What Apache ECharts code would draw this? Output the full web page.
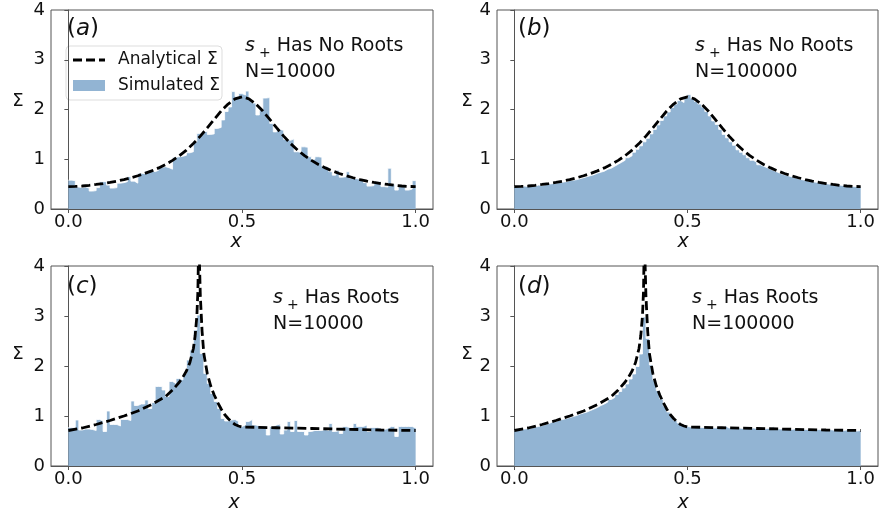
<!DOCTYPE html>
<html>
<head>
<meta charset="utf-8">
<script src="https://cdn.jsdelivr.net/npm/echarts@6/dist/echarts.min.js"></script>
<style>
html, body { margin: 0; padding: 0; background: #fff; }
#main { width: 879px; height: 516px; }
</style>
</head>
<body>
<div id="main"></div>
<script>
// histograms: 100 bins of width 0.01 on [0, 1]
var binCount = 100;

var histA = [
  0.58, 0.57, 0.44, 0.43, 0.44, 0.42, 0.36, 0.37, 0.43, 0.55,
  0.55, 0.48, 0.42, 0.43, 0.52, 0.53, 0.55, 0.65, 0.56, 0.52,
  0.72, 0.71, 0.76, 0.77, 0.75, 0.78, 0.84, 0.85, 0.83, 0.80,
  1.04, 1.05, 1.06, 1.08, 1.13, 1.15, 1.35, 1.52, 1.55, 1.56,
  1.50, 1.51, 1.62, 1.64, 1.79, 1.96, 2.05, 2.36, 2.26, 2.32,
  2.29, 2.37, 2.19, 2.13, 1.89, 1.99, 2.23, 2.24, 1.72, 1.55,
  1.60, 1.58, 1.40, 1.38, 1.41, 1.15, 1.14, 1.25, 1.24, 1.05,
  1.00, 1.05, 1.04, 0.86, 0.84, 0.75, 0.68, 0.78, 0.64, 0.65,
  0.75, 0.62, 0.61, 0.60, 0.58, 0.53, 0.46, 0.47, 0.55, 0.56,
  0.45, 0.44, 0.82, 0.50, 0.38, 0.45, 0.45, 0.38, 0.40, 0.57
];

var histB = [
  0.45, 0.44, 0.46, 0.45, 0.47, 0.46, 0.48, 0.47, 0.49, 0.50,
  0.51, 0.52, 0.53, 0.54, 0.55, 0.57, 0.58, 0.59, 0.61, 0.63,
  0.65, 0.67, 0.69, 0.72, 0.74, 0.76, 0.80, 0.82, 0.86, 0.90,
  0.94, 0.98, 1.03, 1.07, 1.14, 1.20, 1.27, 1.35, 1.42, 1.51,
  1.60, 1.69, 1.78, 1.87, 1.95, 2.04, 2.11, 2.18, 2.14, 2.24,
  2.30, 2.22, 2.16, 2.11, 2.05, 1.96, 1.87, 1.77, 1.70, 1.60,
  1.50, 1.43, 1.35, 1.28, 1.19, 1.14, 1.09, 1.03, 0.98, 0.94,
  0.89, 0.86, 0.83, 0.80, 0.77, 0.74, 0.71, 0.69, 0.67, 0.65,
  0.63, 0.61, 0.59, 0.58, 0.56, 0.55, 0.54, 0.53, 0.52, 0.51,
  0.50, 0.49, 0.48, 0.48, 0.47, 0.46, 0.46, 0.45, 0.45, 0.44
];

var histC = [
  0.77, 0.77, 0.92, 0.72, 0.74, 0.74, 0.73, 0.71, 0.93, 0.90,
  0.69, 1.10, 0.83, 0.83, 0.80, 0.93, 0.93, 0.91, 1.30, 1.21,
  1.24, 1.24, 1.32, 1.15, 1.27, 1.59, 1.59, 1.52, 1.39, 1.69,
  1.65, 1.75, 1.72, 1.85, 2.12, 2.32, 2.72, 3.02, 2.25, 1.85,
  1.65, 1.45, 1.29, 1.15, 0.95, 0.90, 0.92, 0.93, 0.89, 0.79,
  0.82, 0.89, 0.93, 0.82, 0.80, 0.80, 0.80, 0.62, 0.79, 0.82,
  0.84, 0.64, 0.72, 0.89, 0.69, 0.91, 0.69, 0.69, 0.62, 0.69,
  0.71, 0.71, 0.71, 0.73, 0.71, 0.85, 0.69, 0.71, 0.65, 0.79,
  0.77, 0.77, 0.85, 0.79, 0.79, 0.82, 0.69, 0.77, 0.77, 0.75,
  0.73, 0.75, 0.79, 0.79, 0.59, 0.79, 0.79, 0.79, 0.79, 0.76
];

var histD = [
  0.71, 0.72, 0.74, 0.75, 0.76, 0.78, 0.79, 0.81, 0.83, 0.85,
  0.88, 0.89, 0.92, 0.93, 0.95, 0.97, 0.99, 1.01, 1.04, 1.06,
  1.08, 1.11, 1.14, 1.17, 1.21, 1.24, 1.28, 1.33, 1.37, 1.43,
  1.49, 1.56, 1.64, 1.74, 1.84, 1.99, 2.24, 2.98, 2.55, 2.02,
  1.72, 1.51, 1.34, 1.20, 1.08, 0.99, 0.91, 0.86, 0.82, 0.79,
  0.78, 0.77, 0.78, 0.77, 0.77, 0.78, 0.77, 0.76, 0.77, 0.76,
  0.80, 0.76, 0.77, 0.76, 0.76, 0.75, 0.76, 0.75, 0.76, 0.75,
  0.75, 0.74, 0.75, 0.76, 0.79, 0.74, 0.74, 0.75, 0.74, 0.73,
  0.74, 0.73, 0.74, 0.73, 0.73, 0.74, 0.72, 0.73, 0.72, 0.72,
  0.73, 0.72, 0.71, 0.72, 0.71, 0.72, 0.71, 0.71, 0.70, 0.71
];

// analytical curves
var curveABx = [
  0.00, 0.02, 0.04, 0.06, 0.08, 0.10, 0.12, 0.14, 0.16, 0.18,
  0.20, 0.22, 0.24, 0.26, 0.28, 0.30, 0.32, 0.34, 0.36, 0.38,
  0.40, 0.42, 0.44, 0.46, 0.48, 0.50, 0.52, 0.54, 0.56, 0.58,
  0.60, 0.62, 0.64, 0.66, 0.68, 0.70, 0.72, 0.74, 0.76, 0.78,
  0.80, 0.82, 0.84, 0.86, 0.88, 0.90, 0.92, 0.94, 0.96, 0.98, 1.00
];
var curveABy = [
  0.450, 0.453, 0.462, 0.476, 0.493, 0.512, 0.535, 0.560, 0.592, 0.628,
  0.668, 0.714, 0.766, 0.826, 0.896, 0.978, 1.072, 1.185, 1.315, 1.465,
  1.630, 1.800, 1.970, 2.110, 2.215, 2.255, 2.215, 2.110, 1.970, 1.800,
  1.630, 1.465, 1.315, 1.185, 1.072, 0.978, 0.896, 0.826, 0.766, 0.714,
  0.668, 0.628, 0.592, 0.560, 0.535, 0.512, 0.493, 0.476, 0.462, 0.453, 0.450
];

var curveCDx = [
  0.00, 0.04, 0.08, 0.12, 0.16, 0.20, 0.24, 0.28, 0.30, 0.32,
  0.33, 0.34, 0.35, 0.36, 0.365, 0.37, 0.373, 0.3755, 0.3775, 0.38,
  0.385, 0.39, 0.40, 0.41, 0.42, 0.43, 0.44, 0.45, 0.46, 0.47,
  0.48, 0.49, 0.50, 0.60, 0.70, 0.80, 0.90, 1.00
];
var curveCDy = [
  0.71, 0.76, 0.83, 0.91, 1.00, 1.10, 1.23, 1.39, 1.52, 1.68,
  1.78, 1.90, 2.07, 2.35, 2.60, 3.00, 3.50, 4.60, 4.60, 3.40,
  2.70, 2.25, 1.85, 1.60, 1.42, 1.27, 1.14, 1.03, 0.95, 0.88,
  0.83, 0.80, 0.78, 0.765, 0.75, 0.735, 0.72, 0.71
];

var xTicks = [0, 0.5, 1];

var panels = [
  { tag: 'a', note: 'Has No Roots', n: 'N=10000', hist: histA, cx: curveABx, cy: curveABy },
  { tag: 'b', note: 'Has No Roots', n: 'N=100000', hist: histB, cx: curveABx, cy: curveABy },
  { tag: 'c', note: 'Has Roots', n: 'N=10000', hist: histC, cx: curveCDx, cy: curveCDy },
  { tag: 'd', note: 'Has Roots', n: 'N=100000', hist: histD, cx: curveCDx, cy: curveCDy }
];

var legendNames = ['Analytical Σ', 'Simulated Σ'];

var BAR_COLOR = '#92b4d3';
var TEXT_COLOR = '#111';
var AXIS_COLOR = '#555';
var FONT = 'DejaVu Sans';
var CURVE_W = 2.8;
var CURVE_DASH = [9, 4];

var grids = [
  { left: 51, top: 10, width: 382, height: 199 },
  { left: 497, top: 10, width: 381, height: 199 },
  { left: 51, top: 266, width: 382, height: 200 },
  { left: 497, top: 266, width: 381, height: 200 }
];

// where the texts of each panel go
var layout = [
  { tag: [67, 29], note: [245, 46], n: [245, 72], sigma: [18, 101], xl: [236, 242] },
  { tag: [518, 29], note: [695, 46], n: [695, 72], sigma: [467, 101], xl: [683, 242] },
  { tag: [67, 287], note: [273, 298], n: [273, 324], sigma: [18, 354], xl: [234, 503] },
  { tag: [518, 287], note: [692, 298], n: [692, 324], sigma: [467, 354], xl: [683, 503] }
];

var xAxes = [], yAxes = [], series = [], graphics = [];

panels.forEach(function (p, i) {
  grids[i].show = true;
  grids[i].borderColor = AXIS_COLOR;
  grids[i].borderWidth = 1;

  xAxes.push({
    type: 'value', gridIndex: i, min: -0.05, max: 1.05,
    splitLine: { show: false },
    axisLine: { show: true, lineStyle: { color: AXIS_COLOR } },
    axisTick: { show: true, length: 4, lineStyle: { color: AXIS_COLOR }, customValues: xTicks },
    axisLabel: {
      customValues: xTicks, fontSize: 18, color: TEXT_COLOR, fontFamily: FONT, margin: 4,
      formatter: function (v) { return v.toFixed(1); }
    }
  });
  yAxes.push({
    type: 'value', gridIndex: i, min: 0, max: 4, interval: 1,
    splitLine: { show: false },
    axisLine: { show: true, lineStyle: { color: AXIS_COLOR } },
    axisTick: { show: true, length: 4, lineStyle: { color: AXIS_COLOR } },
    axisLabel: { fontSize: 18, color: TEXT_COLOR, fontFamily: FONT, margin: 6 }
  });

  // stepfilled histogram: left edge of each bin, plus the closing right edge
  var step = p.hist.map(function (h, k) { return [k / binCount, h]; });
  step.push([1, p.hist[p.hist.length - 1]]);
  var curve = p.cx.map(function (x, k) { return [x, p.cy[k]]; });

  series.push({
    type: 'line', name: legendNames[1], xAxisIndex: i, yAxisIndex: i,
    step: 'end', data: step, symbol: 'none', silent: true,
    lineStyle: { color: '#fff', width: 0.8 },
    areaStyle: { color: BAR_COLOR, opacity: 1, origin: 'start' },
    z: 2
  });
  series.push({
    type: 'line', name: legendNames[0], xAxisIndex: i, yAxisIndex: i,
    data: curve, symbol: 'none', silent: true,
    lineStyle: { color: '#000', width: CURVE_W, type: CURVE_DASH }, z: 4
  });

  var L = layout[i];
  graphics.push({
    type: 'text', x: L.tag[0], y: L.tag[1],
    style: {
      text: '({i|' + p.tag + '})', fontSize: 23, fontFamily: FONT, fill: TEXT_COLOR,
      textVerticalAlign: 'middle',
      rich: { i: { fontStyle: 'italic', fontSize: 23, fontFamily: FONT } }
    }
  });
  graphics.push({
    type: 'text', x: L.note[0], y: L.note[1],
    style: {
      text: '{i|s}{sub|+}{r| ' + p.note + '}', fill: TEXT_COLOR, textVerticalAlign: 'middle',
      rich: {
        i: { fontStyle: 'italic', fontSize: 19, fontFamily: FONT, lineHeight: 28 },
        sub: { fontSize: 14, fontFamily: FONT, lineHeight: 16, verticalAlign: 'bottom', padding: [0, 0, 0, 4] },
        r: { fontSize: 19, fontFamily: FONT, lineHeight: 28 }
      }
    }
  });
  graphics.push({
    type: 'text', x: L.n[0], y: L.n[1],
    style: { text: p.n, fontSize: 19, fontFamily: FONT, fill: TEXT_COLOR, textVerticalAlign: 'middle' }
  });
  graphics.push({
    type: 'text', x: L.sigma[0], y: L.sigma[1],
    style: { text: 'Σ', fontSize: 18, fontFamily: FONT, fill: TEXT_COLOR, textAlign: 'center', textVerticalAlign: 'middle' }
  });
  graphics.push({
    type: 'text', x: L.xl[0], y: L.xl[1],
    style: { text: 'x', fontSize: 19, fontStyle: 'italic', fontFamily: FONT, fill: TEXT_COLOR, textAlign: 'center', textVerticalAlign: 'middle' }
  });
});

// legend box of panel (a)
graphics.push({
  type: 'group', z: 100,
  children: [
    { type: 'rect', shape: { x: 66, y: 46, width: 156, height: 54, r: 4 },
      style: { fill: 'rgba(255,255,255,0.85)', stroke: '#ddd', lineWidth: 1 } },
    { type: 'line', shape: { x1: 73, y1: 60, x2: 105, y2: 60 },
      style: { stroke: '#000', lineWidth: CURVE_W, lineDash: CURVE_DASH } },
    { type: 'text', x: 118, y: 60,
      style: { text: legendNames[0], fontSize: 17, fontFamily: FONT, fill: TEXT_COLOR, textVerticalAlign: 'middle' } },
    { type: 'rect', shape: { x: 73, y: 80, width: 32, height: 11 }, style: { fill: BAR_COLOR } },
    { type: 'text', x: 118, y: 86,
      style: { text: legendNames[1], fontSize: 17, fontFamily: FONT, fill: TEXT_COLOR, textVerticalAlign: 'middle' } }
  ]
});

var chart = echarts.init(document.getElementById('main'));
chart.setOption({
  animation: false,
  backgroundColor: '#fff',
  grid: grids,
  xAxis: xAxes,
  yAxis: yAxes,
  graphic: graphics,
  series: series
});
</script>
</body>
</html>
